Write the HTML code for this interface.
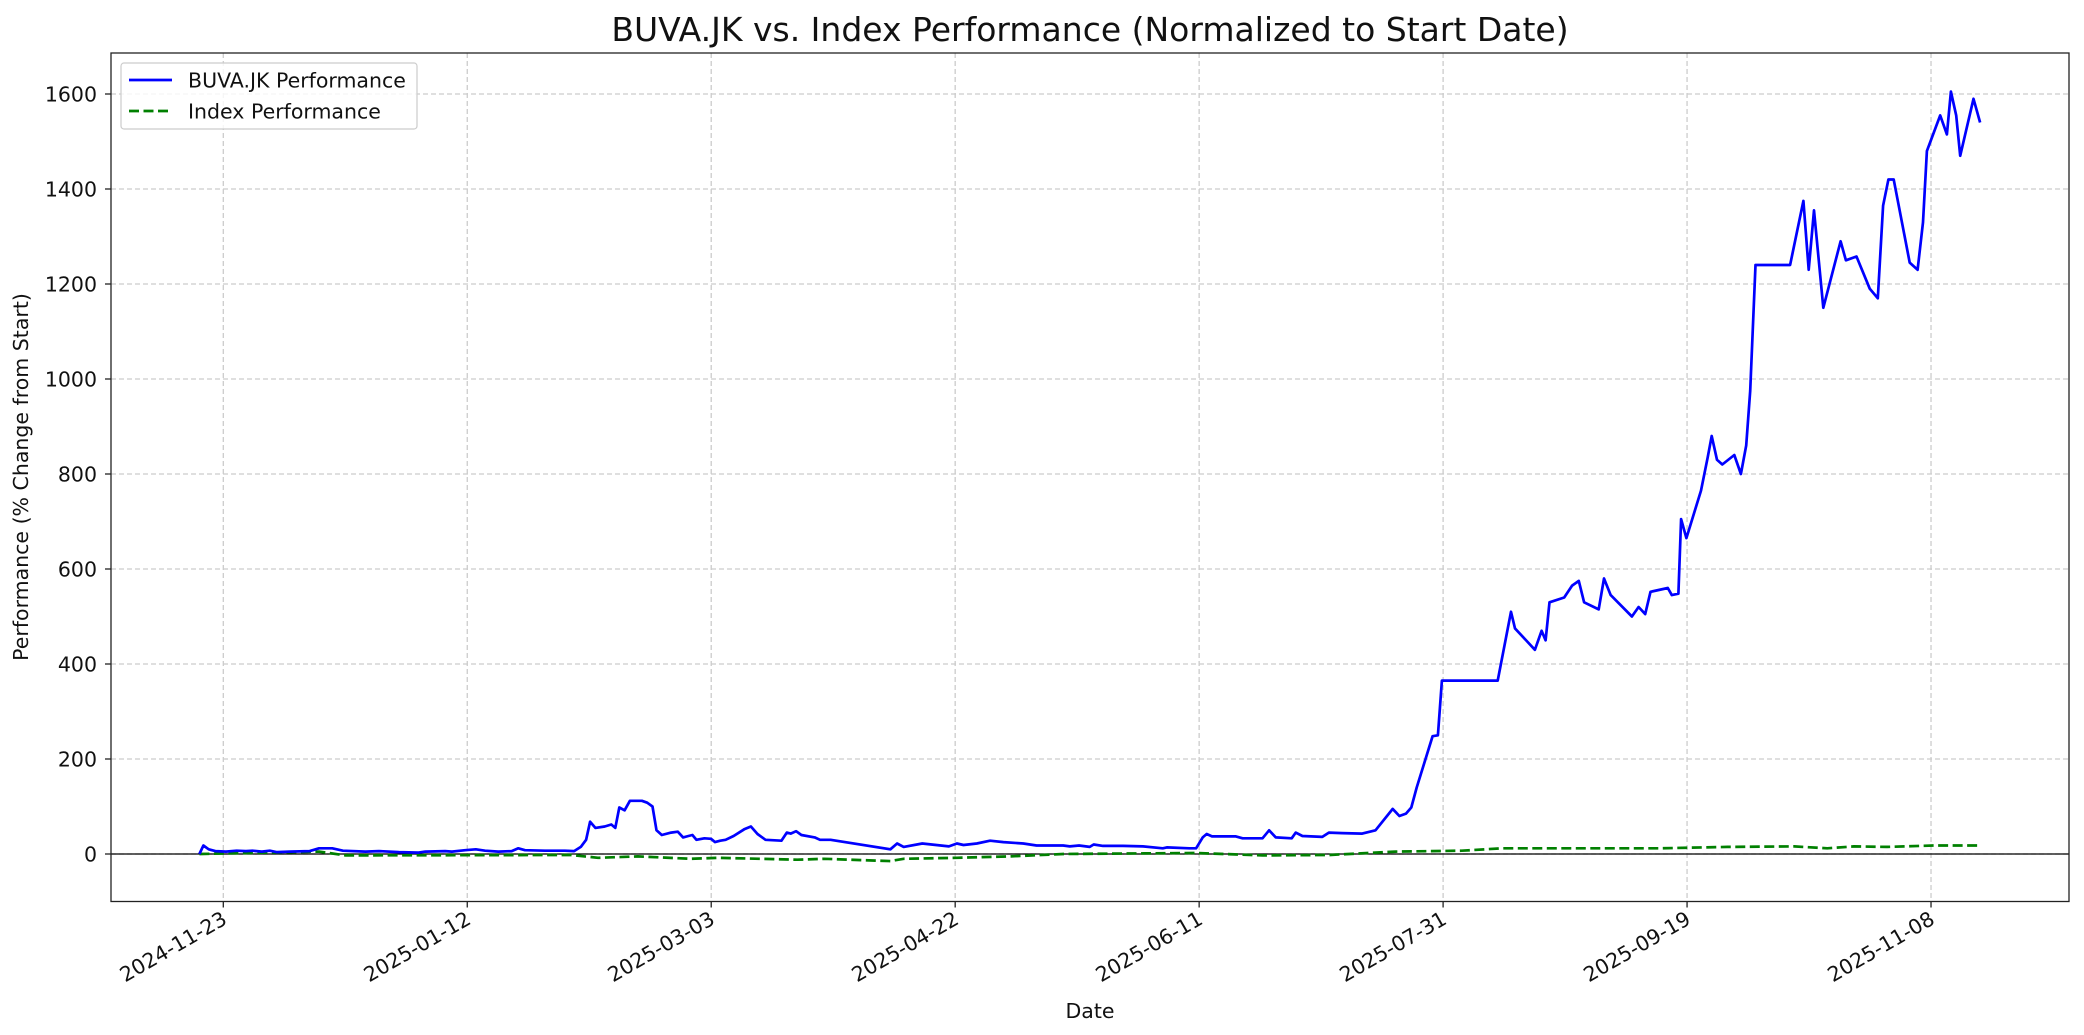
<!DOCTYPE html>
<html><head><meta charset="utf-8"><style>
html,body{margin:0;padding:0;background:#fff;}
svg{display:block;font-family:"DejaVu Sans","Liberation Sans",sans-serif;}
</style></head><body>
<svg id="s" width="2084" height="1035" xmlns="http://www.w3.org/2000/svg">
<rect width="2084" height="1035" fill="#fff"/>
<g id="grid"></g>
<line x1="111" y1="854" x2="2069" y2="854" stroke="#000" stroke-width="1.3"/>
<polyline id="idx" fill="none" stroke="#008000" stroke-width="2.7" stroke-dasharray="10,4.5"/>
<polyline id="buva" fill="none" stroke="#0000ff" stroke-width="2.7" stroke-linejoin="round"/>
<rect x="111" y="53" width="1958" height="848.5" fill="none" stroke="#222" stroke-width="1.3"/>
<g id="ticks"></g>
<text x="1090" y="41" font-size="33" text-anchor="middle" fill="#111">BUVA.JK vs. Index Performance (Normalized to Start Date)</text>
<text x="1090" y="1018" font-size="20.5" text-anchor="middle" fill="#111">Date</text>
<text transform="translate(28,477) rotate(-90)" font-size="20.5" text-anchor="middle" fill="#111">Performance (% Change from Start)</text>
<rect x="121" y="63" width="296" height="66" rx="3" fill="#fff" fill-opacity="0.8" stroke="#ccc" stroke-width="1.2"/>
<line x1="129" y1="80" x2="172" y2="80" stroke="#0000ff" stroke-width="2.7"/>
<line x1="129" y1="111" x2="172" y2="111" stroke="#008000" stroke-width="2.7" stroke-dasharray="10,4.5"/>
<text x="188" y="87.5" font-size="20.5" fill="#111">BUVA.JK Performance</text>
<text x="188" y="118.5" font-size="20.5" fill="#111">Index Performance</text>
</svg>
<script>
var NS="http://www.w3.org/2000/svg";
function X(xd){return 223.3+(xd-168)*1.3289;}
function Y(v){return 854-v*0.475;}
function el(p,t,a,txt){var e=document.createElementNS(NS,t);for(var k in a)e.setAttribute(k,a[k]);if(txt)e.textContent=txt;document.getElementById(p).appendChild(e);}
for(var v=-0;v<=1600;v+=200){var y=Y(v);
 el("grid","line",{x1:111,x2:2069,y1:y,y2:y,stroke:"#cccccc","stroke-width":1.3,"stroke-dasharray":"5,3"});
 el("ticks","line",{x1:105,x2:111,y1:y,y2:y,stroke:"#222","stroke-width":1.3});
 el("ticks","text",{x:97,y:y+7.5,"font-size":20.5,"text-anchor":"end",fill:"#111"},String(v));}
var dates=["2024-11-23","2025-01-12","2025-03-03","2025-04-22","2025-06-11","2025-07-31","2025-09-19","2025-11-08"];
for(var i=0;i<8;i++){var x=223.3+i*243.96;
 el("grid","line",{x1:x,x2:x,y1:53,y2:901.5,stroke:"#cccccc","stroke-width":1.3,"stroke-dasharray":"5,3"});
 el("ticks","line",{x1:x,x2:x,y1:901.5,y2:907.5,stroke:"#222","stroke-width":1.3});
 el("ticks","text",{transform:"translate("+(x+5)+",923) rotate(-30)","font-size":20.5,"text-anchor":"end",fill:"#111"},dates[i]);}
var b=[150,0,153,18,157,10,162,6,170,5,178,7,185,6,190,7,197,5,203,7,208,4,218,5,233,6,240,12,250,12,258,7,275,5,285,6,300,4,315,3,320,5,335,6,340,5,350,8,358,10,365,7,375,5,385,6,390,12,395,8,410,7,425,7,432,6,437,15,441,30,444,68,448,55,455,58,460,62,463,55,466,98,470,92,474,112,483,112,487,108,491,100,494,50,498,40,505,45,510,47,514,35,518,38,521,40,524,30,530,33,535,32,538,25,542,28,546,30,552,38,560,52,565,58,570,42,576,30,588,28,592,45,595,43,599,48,603,40,613,35,617,30,625,30,670,10,675,22,680,15,694,22,714,16,720,22,725,19,735,22,745,28,755,25,770,22,780,18,800,18,805,16,812,18,820,15,823,20,830,17,845,17,860,16,875,12,878,14,895,12,900,12,905,35,908,42,912,37,930,37,935,33,950,33,955,50,960,35,972,33,975,45,980,38,995,36,1000,45,1010,44,1025,43,1035,50,1048,95,1053,80,1058,85,1062,98,1066,140,1078,248,1082,250,1085,365,1127,365,1137,510,1140,475,1155,430,1160,470,1163,450,1166,530,1177,540,1183,565,1188,575,1192,530,1203,515,1207,580,1212,545,1228,500,1233,520,1238,505,1242,552,1255,560,1258,545,1263,548,1265,705,1269,665,1280,765,1285,835,1288,880,1292,830,1296,820,1305,840,1310,800,1314,860,1317,975,1321,1240,1347,1240,1357,1375,1361,1230,1365,1355,1372,1150,1385,1290,1389,1250,1397,1258,1407,1190,1413,1170,1417,1365,1421,1420,1425,1420,1437,1245,1443,1230,1447,1330,1450,1480,1460,1555,1465,1515,1468,1605,1472,1555,1475,1470,1485,1590,1490,1540];
var g=[150,0,240,5,260,-3,430,-2,450,-8,480,-5,520,-10,540,-8,600,-12,620,-10,670,-15,680,-10,720,-8,760,-5,800,0,900,2,950,-3,1000,-2,1050,5,1100,7,1130,12,1200,12,1250,12,1300,15,1350,16,1375,12,1395,16,1420,15,1455,18,1490,18];
function pts(a){var s=[];for(var i=0;i<a.length;i+=2)s.push(X(a[i]).toFixed(1)+","+Y(a[i+1]).toFixed(1));return s.join(" ");}
document.getElementById("buva").setAttribute("points",pts(b));
document.getElementById("idx").setAttribute("points",pts(g));
</script>
</body></html>
